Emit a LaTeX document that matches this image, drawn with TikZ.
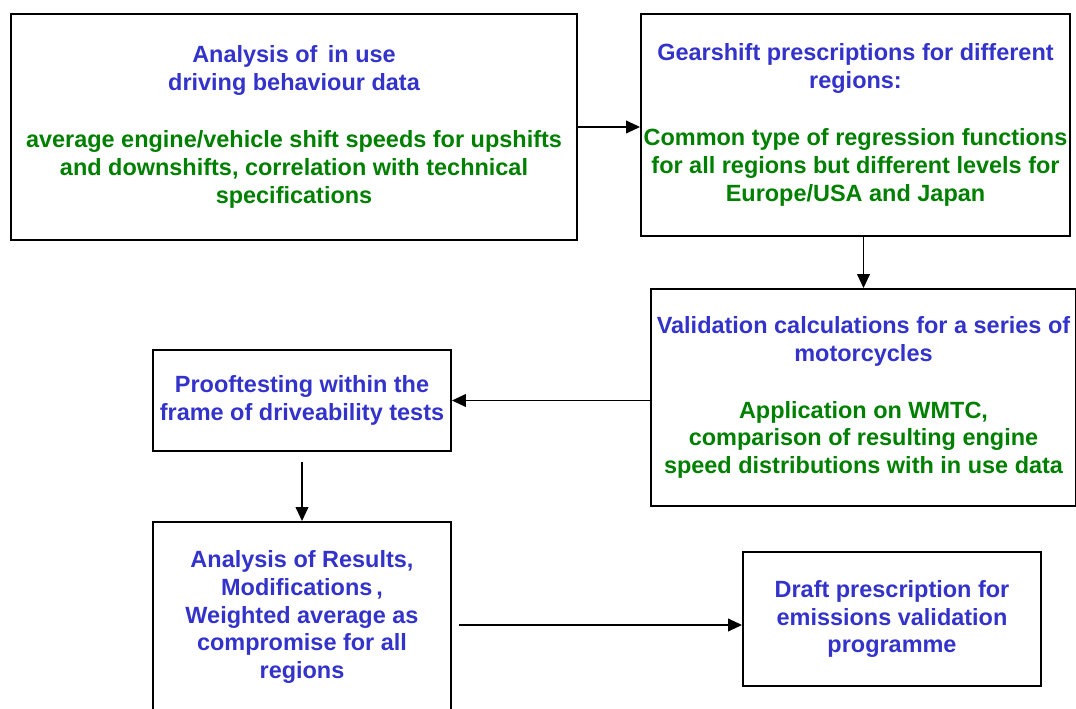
\documentclass[tikz,border=0pt]{standalone}
\usepackage{fontspec}
\setmainfont{Liberation Sans}
\usetikzlibrary{positioning,calc,arrows.meta}
\definecolor{stepblue}{RGB}{51,51,204}
\definecolor{stepgreen}{RGB}{0,128,0}
\newcommand{\hd}[1]{\textcolor{stepblue}{#1}}
\newcommand{\gr}[1]{\textcolor{stepgreen}{#1}}

\begin{document}
\begin{tikzpicture}
	[   x=0.75pt,y=-0.75pt,
	    box/.style={draw=black,line width=1.4pt,fill=white,align=center,
	        font=\fontsize{17.6}{20.8}\selectfont\bfseries,
	        minimum width=#1,inner sep=1pt},
	]
	\tikzset{normal arrow/.style={draw,line width=1.3pt,-{Triangle[length=10.5pt,width=9.5pt]}}}
	\useasboundingbox (0,0) rectangle (1076,709);
	
	% top row
	\node[box=424.5pt,minimum height=169.5pt] (ana) at (294,127)
	{\hd{Analysis of\, in use}\\ \hd{driving behaviour data}\\[22pt]
	 \gr{average engine/vehicle shift speeds for upshifts}\\
	 \gr{and downshifts, correlation with technical}\\ \gr{specifications}};
	\node[box=321.75pt,minimum height=166.5pt] (gear) at (855.5,125)
	{\hd{Gearshift prescriptions for different}\\ \hd{regions:}\\[22pt]
	 \gr{Common type of regression functions}\\
	 \gr{for all regions but different levels for}\\ \gr{Europe/USA and Japan}};
	
	% middle row
	\node[box=318.75pt,minimum height=162.75pt] (valid) at (863.5,397.5)
	{\hd{Validation calculations for a series of}\\ \hd{motorcycles}\\[22pt]
	 \gr{Application on WMTC,}\\
	 \gr{comparison of resulting engine}\\ \gr{speed distributions with in use data}};
	\node[box=223.5pt,minimum height=75.75pt] (proof) at (302,400.5)
	{\hd{Prooftesting within the}\\ \hd{frame of driveability tests}};
	
	% bottom row
	\node[box=223.5pt,minimum height=142.5pt] (res) at (302,617)
	{\hd{Analysis of Results,}\\ \hd{Modifications\,,}\\ \hd{Weighted average as}\\
	 \hd{compromise for all}\\ \hd{regions}};
	\node[box=223.5pt,minimum height=100.5pt] (draft) at (892,619)
	{\hd{Draft prescription for}\\ \hd{emissions validation}\\ \hd{programme}};
	
	% connectors
	\path[normal arrow] (ana.east) -- (ana.east -| gear.west);
	\path[normal arrow] (valid.north |- gear.south) -- (valid.north);
	\path[normal arrow] (valid.west |- proof.east) -- (proof.east);
	\path[normal arrow,shorten <=7.5pt] (proof.south) -- (res.north);
	\path[normal arrow,shorten <=5pt] ([yshift=-6pt]res.east) -- ([yshift=-6pt]res.east -| draft.west);
\end{tikzpicture}
\end{document}
